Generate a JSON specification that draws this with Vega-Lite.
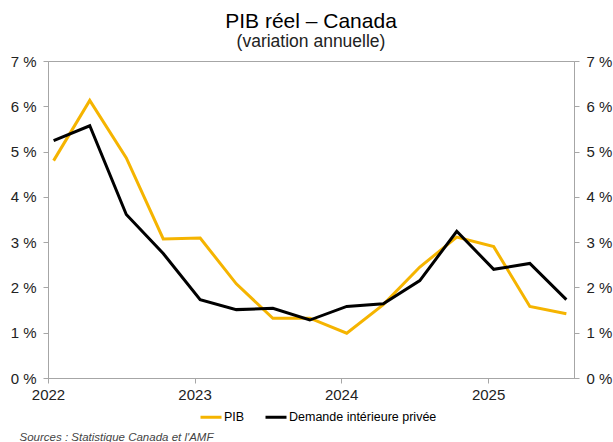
{
  "$schema": "https://vega.github.io/schema/vega-lite/v6.json",
  "width": 526,
  "height": 317,
  "autosize": "none",
  "padding": {"left": 48, "top": 61, "right": 39, "bottom": 64},
  "background": "white",
  "title": {
    "text": "PIB réel – Canada",
    "subtitle": "(variation annuelle)",
    "anchor": "middle",
    "font": "Liberation Sans",
    "fontSize": 21,
    "fontWeight": "normal",
    "color": "#000000",
    "subtitleFont": "Liberation Sans",
    "subtitleFontSize": 17.5,
    "subtitleColor": "#222222",
    "subtitlePadding": 1,
    "offset": 4
  },
  "config": {
    "view": {"stroke": "#a6a6a6", "strokeWidth": 1},
    "font": "Liberation Sans"
  },
  "data": {
    "values": [
      {"date": "2022-01-15", "serie": "PIB", "v": 4.80},
      {"date": "2022-04-15", "serie": "PIB", "v": 6.13},
      {"date": "2022-07-15", "serie": "PIB", "v": 4.86},
      {"date": "2022-10-15", "serie": "PIB", "v": 3.07},
      {"date": "2023-01-15", "serie": "PIB", "v": 3.09},
      {"date": "2023-04-15", "serie": "PIB", "v": 2.08},
      {"date": "2023-07-15", "serie": "PIB", "v": 1.32},
      {"date": "2023-10-15", "serie": "PIB", "v": 1.32},
      {"date": "2024-01-15", "serie": "PIB", "v": 0.99},
      {"date": "2024-04-15", "serie": "PIB", "v": 1.62},
      {"date": "2024-07-15", "serie": "PIB", "v": 2.45},
      {"date": "2024-10-15", "serie": "PIB", "v": 3.11},
      {"date": "2025-01-15", "serie": "PIB", "v": 2.90},
      {"date": "2025-04-15", "serie": "PIB", "v": 1.58},
      {"date": "2025-07-15", "serie": "PIB", "v": 1.42},
      {"date": "2022-01-15", "serie": "Demande intérieure privée", "v": 5.24},
      {"date": "2022-04-15", "serie": "Demande intérieure privée", "v": 5.57},
      {"date": "2022-07-15", "serie": "Demande intérieure privée", "v": 3.61},
      {"date": "2022-10-15", "serie": "Demande intérieure privée", "v": 2.75},
      {"date": "2023-01-15", "serie": "Demande intérieure privée", "v": 1.73},
      {"date": "2023-04-15", "serie": "Demande intérieure privée", "v": 1.51},
      {"date": "2023-07-15", "serie": "Demande intérieure privée", "v": 1.54},
      {"date": "2023-10-15", "serie": "Demande intérieure privée", "v": 1.28},
      {"date": "2024-01-15", "serie": "Demande intérieure privée", "v": 1.58},
      {"date": "2024-04-15", "serie": "Demande intérieure privée", "v": 1.64},
      {"date": "2024-07-15", "serie": "Demande intérieure privée", "v": 2.15},
      {"date": "2024-10-15", "serie": "Demande intérieure privée", "v": 3.24},
      {"date": "2025-01-15", "serie": "Demande intérieure privée", "v": 2.40},
      {"date": "2025-04-15", "serie": "Demande intérieure privée", "v": 2.53},
      {"date": "2025-07-15", "serie": "Demande intérieure privée", "v": 1.73}
    ]
  },
  "encoding": {
    "x": {
      "field": "date",
      "type": "temporal",
      "scale": {
        "type": "utc",
        "domain": [
          {"year": 2022, "month": 1, "date": 1, "utc": true},
          {"year": 2025, "month": 8, "date": 3, "utc": true}
        ]
      },
      "axis": {
        "title": "Sources : Statistique Canada et l'AMF",
        "titleFont": "Liberation Sans",
        "titleFontSize": 11.5,
        "titleFontStyle": "italic",
        "titleFontWeight": "normal",
        "titleColor": "#444444",
        "titleAnchor": "start",
        "titleAlign": "left",
        "titleBaseline": "alphabetic",
        "titleX": -29,
        "titleY": 62,
        "format": "%Y",
        "tickCount": {"interval": "year", "step": 1},
        "labelFontSize": 15,
        "labelColor": "#222222",
        "labelFont": "Liberation Sans",
        "labelPadding": 4,
        "labelFlush": false,
        "labelOverlap": false,
        "domainColor": "#a6a6a6",
        "tickColor": "#a6a6a6",
        "tickSize": 5,
        "grid": false
      }
    },
    "y": {
      "field": "v",
      "type": "quantitative",
      "scale": {"domain": [0, 7], "nice": false, "zero": true}
    },
    "color": {
      "field": "serie",
      "type": "nominal",
      "sort": ["PIB", "Demande intérieure privée"],
      "scale": {
        "domain": ["PIB", "Demande intérieure privée"],
        "range": ["#f5b400", "#000000"]
      },
      "legend": {
        "title": null,
        "orient": "none",
        "direction": "horizontal",
        "legendX": 151,
        "legendY": 344,
        "symbolType": "stroke",
        "symbolStrokeWidth": 3,
        "symbolSize": 441,
        "labelFont": "Liberation Sans",
        "labelFontSize": 12.5,
        "labelColor": "#000000",
        "labelOffset": 1,
        "columnPadding": 14
      }
    }
  },
  "layer": [
    {
      "transform": [{"filter": "datum.serie === 'PIB'"}],
      "mark": {"type": "line", "strokeWidth": 3},
      "encoding": {
        "y": {
          "field": "v",
          "type": "quantitative",
          "axis": {
            "title": null,
            "orient": "left",
            "values": [0, 1, 2, 3, 4, 5, 6, 7],
            "labelExpr": "datum.value + ' %'",
            "labelFontSize": 15,
            "labelColor": "#222222",
            "labelFont": "Liberation Sans",
            "labelPadding": 7,
            "labelFlush": false,
            "domainColor": "#a6a6a6",
            "tickColor": "#a6a6a6",
            "tickSize": 5,
            "grid": false
          }
        }
      }
    },
    {
      "transform": [{"filter": "datum.serie !== 'PIB'"}],
      "mark": {"type": "line", "strokeWidth": 3},
      "encoding": {
        "y": {
          "field": "v",
          "type": "quantitative",
          "axis": {
            "title": null,
            "orient": "right",
            "values": [0, 1, 2, 3, 4, 5, 6, 7],
            "labelExpr": "datum.value + ' %'",
            "labelFontSize": 15,
            "labelColor": "#222222",
            "labelFont": "Liberation Sans",
            "labelPadding": 7,
            "labelFlush": false,
            "domainColor": "#a6a6a6",
            "tickColor": "#a6a6a6",
            "tickSize": 5,
            "grid": false
          }
        }
      }
    }
  ],
  "resolve": {"axis": {"y": "independent"}}
}
